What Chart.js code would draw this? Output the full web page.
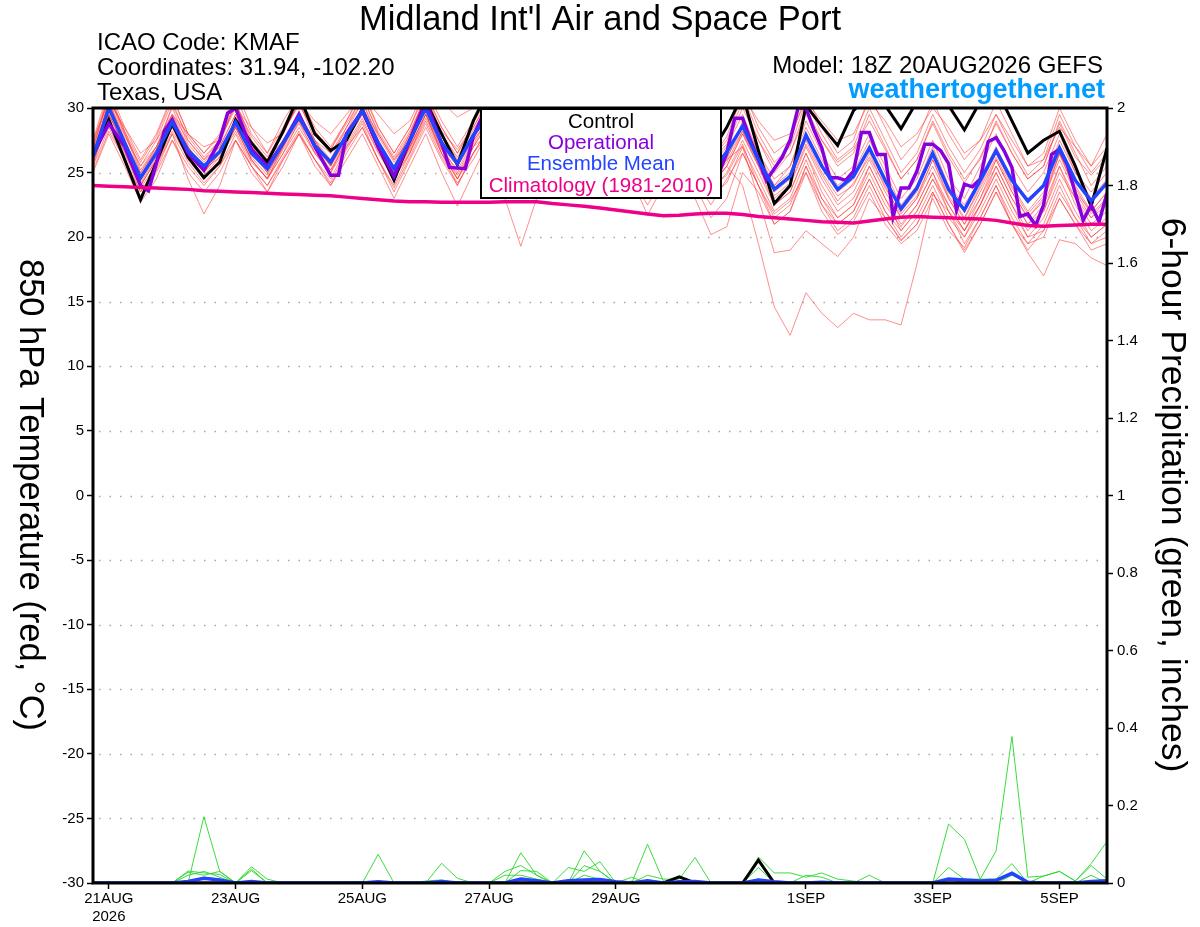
<!doctype html>
<html>

<head>
  <title>KMAF GEFS 850 hPa temperature plume</title>
  <script src="https://cdn.jsdelivr.net/npm/chart.js@4.4.0/dist/chart.umd.min.js"></script>
  <style>
    body {
      margin: 0;
      background: #fff;
    }
    canvas {
      display: block;
    }
  </style>
</head>

<body>
  <canvas id="plume" width="1200" height="927"></canvas>

  <script>
    // forecast hours after 18Z 20AUG2026, 6-hourly
    var hours = [0, 6, 12, 18, 24, 30, 36, 42, 48, 54, 60, 66, 72, 78, 84, 90, 96, 102, 108, 114, 120,
      126, 132, 138, 144, 150, 156, 162, 168, 174, 180, 186, 192, 198, 204, 210, 216, 222, 228, 234, 240,
      246, 252, 258, 264, 270, 276, 282, 288, 294, 300, 306, 312, 318, 324, 330, 336, 342, 348, 354, 360,
      366, 372, 378, 384];

    var tickHours = [6, 54, 102, 150, 198, 270, 318, 366];
    var tickLabels = [['21AUG', '2026'], '23AUG', '25AUG', '27AUG', '29AUG', '1SEP', '3SEP', '5SEP'];
    var gridTemps = [-25, -20, -15, -10, -5, 0, 5, 10, 15, 20, 25];

    var legendItems = ['Control', 'Operational', 'Ensemble Mean', 'Climatology (1981-2010)'];
    var legendColors = ['#000000', '#8800dd', '#2244ff', '#ee0088'];

    var controlTemp = [
      26.3, 29.1, 26.0, 22.9, 25.8,
      28.8, 26.2, 24.6, 25.8, 29.1,
      27.3, 25.8, 28.2, 31.0, 28.0,
      26.7, 27.5, 29.9, 27.0, 24.4,
      27.5, 30.5, 28.0, 25.6, 29.0,
      31.5, 29.0, 27.0, 29.5, 32.0,
      29.5, 27.5, 29.5, 32.0, 29.5,
      27.0, 29.0, 31.5, 29.0, 26.5,
      28.5, 31.0, 26.7, 22.6, 24.0,
      30.2, 28.6, 27.1, 29.8, 31.0,
      30.2, 28.4, 30.5, 31.5, 30.2,
      28.3, 30.5, 31.5, 29.0, 26.5,
      27.5, 28.2, 25.5, 22.4, 26.9];

    var meanTemp = [
      26.2, 30.0, 27.3, 24.6, 26.5,
      28.9, 26.7, 25.5, 26.6, 28.9,
      26.5, 25.3, 27.3, 29.3, 27.1,
      25.8, 27.9, 29.8, 27.3, 25.3,
      27.5, 30.0, 27.3, 25.7, 27.9,
      29.5, 27.0, 25.5, 27.5, 29.5,
      27.2, 25.5, 27.5, 29.5, 27.0,
      25.2, 27.0, 29.0, 26.8, 25.0,
      26.6, 28.6, 26.0, 23.7, 24.7,
      27.9, 25.5, 23.7, 24.7, 26.9,
      24.4, 22.2, 23.8, 26.5, 23.7,
      22.1, 24.4, 26.7, 24.4, 22.8,
      24.0, 26.9, 24.4, 22.8, 24.2];

    var climoTemp = [
      24.0, 23.95, 23.9, 23.85, 23.8,
      23.75, 23.7, 23.6, 23.55, 23.5,
      23.45, 23.4, 23.35, 23.3, 23.25,
      23.2, 23.1, 23.0, 22.9, 22.8,
      22.75, 22.75, 22.7, 22.7, 22.7,
      22.7, 22.75, 22.75, 22.75, 22.6,
      22.5, 22.4, 22.25, 22.1, 21.95,
      21.8, 21.65, 21.7, 21.8, 21.85,
      21.85, 21.75, 21.6, 21.5, 21.4,
      21.3, 21.2, 21.15, 21.1, 21.25,
      21.4, 21.55, 21.6, 21.55, 21.5,
      21.45, 21.4, 21.3, 21.1, 20.9,
      20.85, 20.9, 20.95, 21.0, 21.0];

    // operational run is 3-hourly later on
    var opHours = [0, 6, 12, 18, 21, 24, 27, 30, 36, 42, 48, 51, 54, 60, 66, 72, 78, 84, 90, 93, 96,
      102, 108, 114, 120, 126, 132, 135, 141, 144, 150, 156, 162, 168, 174, 180, 186, 192, 198, 204,
      210, 216, 222, 228, 234, 237, 240, 243, 246, 249, 252, 255, 258, 261, 264, 267, 270, 273, 276,
      279, 282, 285, 288, 291, 294, 297, 300, 303, 306, 309, 312, 315, 318, 321, 324, 327, 330, 333,
      336, 339, 342, 345, 348, 351, 354, 357, 360, 363, 366, 369, 372, 375, 378, 381, 384];
    var opTemp = [26.4, 28.8, 27.0, 24.0, 23.6, 25.7, 28.2, 29.1, 26.5, 25.2, 27.5, 29.6, 30.0, 26.8,
      25.5, 27.3, 29.5, 27.0, 24.8, 24.8, 28.0,
      29.8, 27.0, 24.7, 27.5, 30.5, 27.3, 25.4, 25.3, 27.8, 30.5, 28.0, 26.0, 28.0, 31.0, 28.5, 26.0,
      28.0, 31.0, 28.5,
      26.0, 28.0, 30.5, 28.0, 25.5, 24.9, 26.5, 29.2, 29.2, 27.5, 26.0, 24.4, 25.3, 26.2, 27.5, 30.0,
      30.0, 28.3, 26.9,
      24.6, 24.6, 24.4, 25.1, 28.1, 28.1, 26.4, 26.4, 21.6, 23.8, 23.8, 25.1, 27.2, 27.2, 26.7, 25.7,
      22.1, 24.1, 23.9,
      24.5, 27.4, 27.7, 26.7, 25.4, 21.6, 21.8, 20.9, 22.5, 26.4, 26.8, 25.6, 23.4, 21.3, 22.5, 21.2,
      23.4];

    var tempMember01 = [
      27.0, 31.0, 28.0, 25.5, 27.5, 30.5, 27.5, 26.0, 27.5, 30.5, 27.5, 26.0, 28.0, 30.5, 28.0,
      26.5, 28.5, 31.0, 28.0, 26.0, 28.0, 31.0, 28.5, 26.5, 28.5, 30.5, 28.0, 26.5, 28.5, 30.5,
      28.0, 26.5, 28.5, 30.5, 28.0, 26.0, 28.0, 30.0, 28.0, 26.0, 27.5, 30.5, 27.5, 25.0, 26.5,
      30.0, 27.5, 25.5, 26.5, 29.5, 27.0, 24.5, 26.0, 29.0, 26.5, 24.5, 26.0, 29.0, 26.5, 24.5,
      25.5, 29.0, 26.5, 24.0, 25.5];
    var tempMember02 = [
      27.5, 31.5, 28.5, 26.0, 28.0, 31.0, 28.0, 26.5, 28.0, 31.5, 28.5, 26.5, 29.0, 31.0, 28.5,
      27.0, 29.0, 31.5, 28.5, 26.5, 28.5, 31.5, 29.0, 27.0, 29.0, 31.5, 29.0, 27.0, 29.5, 31.5,
      29.0, 27.0, 29.0, 31.0, 28.5, 26.5, 28.5, 31.0, 28.5, 26.5, 28.5, 31.5, 28.5, 26.5, 27.5,
      31.0, 28.5, 26.5, 27.5, 31.0, 28.5, 26.0, 27.5, 30.5, 28.0, 26.0, 27.5, 30.5, 28.0, 25.5,
      26.5, 30.0, 27.5, 25.5, 27.0];
    var tempMember03 = [
      25.5, 28.5, 26.0, 23.0, 25.0, 27.5, 25.5, 24.0, 25.5, 27.5, 25.5, 24.0, 26.0, 28.0, 26.0,
      24.0, 26.5, 28.5, 26.0, 23.5, 26.0, 28.5, 26.0, 24.0, 26.5, 28.0, 25.5, 24.0, 26.0, 28.0,
      25.5, 23.5, 25.5, 27.5, 25.0, 23.0, 25.0, 27.0, 24.5, 22.5, 24.5, 26.5, 24.0, 21.5, 22.5,
      25.5, 23.0, 21.0, 22.0, 24.5, 22.0, 20.0, 21.5, 24.0, 21.5, 20.0, 22.0, 24.5, 22.0, 20.0,
      21.5, 24.5, 22.0, 20.0, 21.0];
    var tempMember04 = [
      25.8, 29.0, 26.5, 23.5, 25.5, 28.0, 24.5, 21.8, 24.0, 27.5, 25.5, 23.5, 26.0, 28.0, 26.0,
      24.5, 27.0, 28.5, 26.0, 24.0, 26.5, 29.0, 26.5, 24.5, 26.5, 28.5, 26.0, 24.5, 26.5, 28.5,
      26.0, 24.5, 26.5, 28.5, 26.0, 24.0, 26.0, 28.0, 25.5, 23.5, 25.0, 27.5, 25.0, 22.5, 23.5,
      26.5, 24.0, 22.0, 23.0, 25.5, 23.0, 21.0, 22.5, 25.0, 22.5, 20.5, 23.0, 25.5, 23.0, 21.0,
      22.5, 25.5, 23.0, 21.5, 22.5];
    var tempMember05 = [
      26.5, 30.5, 27.5, 24.5, 26.5, 29.5, 27.0, 25.0, 26.5, 29.0, 26.5, 25.0, 27.0, 29.5, 27.5,
      25.5, 28.0, 30.0, 27.5, 25.0, 27.5, 30.5, 27.0, 24.5, 27.0, 28.0, 23.0, 19.3, 23.0, 27.5,
      26.0, 24.5, 26.5, 28.5, 26.0, 24.0, 26.0, 28.0, 26.0, 24.0, 25.5, 28.0, 25.5, 23.0, 24.0,
      27.0, 24.5, 22.5, 23.5, 26.0, 23.5, 21.5, 23.0, 25.5, 23.0, 21.0, 23.5, 26.0, 23.5, 21.5,
      23.0, 26.0, 23.5, 21.5, 23.0];
    var tempMember06 = [
      26.0, 29.5, 27.0, 24.0, 26.0, 28.5, 26.5, 25.0, 26.5, 28.5, 26.0, 24.5, 27.0, 29.0, 27.0,
      25.5, 27.5, 29.5, 27.0, 25.0, 27.0, 29.5, 27.0, 25.5, 27.5, 29.0, 26.5, 25.0, 27.0, 29.0,
      26.5, 25.0, 27.0, 29.0, 26.5, 24.5, 26.5, 28.5, 26.0, 24.0, 25.5, 24.0, 19.5, 14.6, 12.4,
      15.7, 14.1, 13.0, 14.1, 13.6, 13.6, 13.2, 17.9, 23.3, 22.0, 20.5, 22.5, 25.5, 23.0, 21.0,
      22.0, 25.0, 23.0, 21.0, 22.0];
    var tempMember07 = [
      26.5, 30.0, 27.5, 25.0, 27.0, 29.0, 27.0, 25.5, 27.0, 29.5, 27.0, 25.5, 27.5, 29.5, 27.5,
      26.0, 28.5, 30.5, 27.5, 25.5, 28.0, 30.5, 28.0, 26.0, 28.0, 30.0, 27.5, 26.0, 28.0, 30.0,
      27.5, 26.0, 28.0, 30.0, 27.5, 25.5, 27.5, 29.5, 27.0, 25.0, 26.0, 27.0, 23.0, 18.8, 19.0,
      20.5, 19.5, 18.5, 20.0, 23.0, 21.5, 19.8, 21.0, 23.5, 21.0, 19.0, 21.0, 23.5, 21.0, 19.0,
      20.5, 23.0, 21.0, 19.5, 20.0];
    var tempMember08 = [
      25.5, 29.5, 27.0, 24.0, 26.0, 28.5, 26.0, 24.5, 26.0, 28.5, 26.0, 24.5, 26.5, 28.5, 26.5,
      25.0, 27.5, 29.5, 27.0, 24.5, 27.0, 29.5, 26.5, 24.5, 27.0, 29.0, 26.5, 24.5, 26.5, 28.5,
      26.5, 24.5, 26.5, 28.5, 26.0, 24.0, 26.0, 28.0, 26.0, 24.0, 25.5, 28.0, 25.5, 22.5, 23.5,
      26.5, 23.5, 21.5, 22.5, 25.5, 23.0, 20.5, 22.0, 24.5, 22.0, 19.5, 21.5, 24.0, 21.0, 18.8,
      17.0, 19.8, 19.5, 18.4, 17.8];
    var tempMember09 = [
      26.8, 31.0, 28.2, 25.2, 27.0, 30.0, 27.2, 25.8, 27.2, 30.5, 27.2, 25.8, 28.2, 30.5, 27.5,
      26.5, 28.2, 30.5, 27.8, 25.8, 27.8, 31.0, 28.0, 26.2, 28.3, 30.2, 27.8, 26.0, 28.2, 30.2,
      27.8, 26.0, 28.0, 30.0, 27.5, 25.8, 27.5, 29.5, 27.2, 25.5, 27.0, 29.5, 26.5, 24.5, 25.5,
      28.5, 26.0, 24.0, 25.0, 27.5, 25.0, 22.5, 24.0, 27.0, 24.0, 22.5, 24.5, 27.0, 24.5, 23.0,
      24.0, 27.5, 25.0, 23.5, 25.0];
    var tempMember10 = [
      27.5, 30.5, 28.5, 26.5, 27.5, 29.5, 28.0, 27.0, 27.5, 30.0, 28.5, 27.3, 28.0, 30.5, 29.0,
      28.0, 29.5, 31.0, 29.5, 28.0, 29.0, 31.5, 30.5, 29.3, 30.0, 31.0, 29.5, 28.0, 29.5, 31.0,
      29.5, 28.0, 29.5, 31.5, 29.5, 27.5, 29.0, 30.5, 28.5, 27.0, 28.5, 31.0, 29.0, 27.5, 28.0,
      30.5, 29.0, 27.5, 28.0, 30.5, 29.0, 27.0, 28.0, 30.0, 28.5, 26.5, 27.5, 29.5, 27.5, 25.5,
      26.0, 28.5, 27.0, 25.5, 28.0];
    var tempMember11 = [
      25.0, 28.0, 25.5, 22.7, 24.5, 27.5, 25.0, 23.5, 25.0, 27.5, 25.0, 23.5, 25.5, 28.0, 25.5,
      24.0, 26.0, 28.0, 25.5, 23.0, 25.5, 28.0, 25.0, 22.4, 25.0, 27.5, 25.0, 23.5, 25.5, 27.5,
      25.0, 23.0, 25.0, 27.0, 24.5, 22.5, 24.5, 27.0, 24.0, 21.5, 23.0, 26.5, 24.0, 21.0, 22.0,
      25.5, 22.5, 20.5, 21.5, 24.0, 21.5, 19.7, 21.0, 23.5, 21.0, 18.8, 21.0, 23.5, 21.0, 19.5,
      21.0, 24.0, 21.5, 19.5, 20.5];
    var tempMember12 = [
      26.0, 29.5, 27.0, 24.0, 26.0, 28.5, 26.5, 24.5, 26.0, 28.5, 26.0, 24.5, 26.5, 29.0, 26.5,
      25.0, 27.0, 29.0, 26.5, 24.5, 26.5, 29.5, 26.5, 24.0, 26.5, 28.5, 26.0, 24.0, 25.5, 28.0,
      25.5, 23.5, 25.0, 27.5, 24.5, 21.7, 24.0, 26.0, 23.0, 20.2, 20.8, 25.0, 23.5, 21.0, 22.0,
      25.0, 22.5, 21.0, 22.0, 24.5, 22.0, 20.5, 22.0, 24.5, 22.5, 20.5, 22.5, 25.0, 22.5, 20.0,
      20.5, 23.5, 21.5, 20.0, 21.0];
    var tempMember13 = [
      26.3, 30.5, 27.8, 25.5, 27.0, 29.5, 27.5, 26.0, 27.0, 29.5, 27.0, 26.0, 27.5, 29.5, 27.0,
      26.0, 28.0, 30.0, 28.0, 26.0, 27.5, 30.0, 27.5, 25.5, 28.0, 29.5, 27.5, 25.5, 27.5, 29.5,
      27.5, 25.5, 27.5, 29.5, 27.0, 25.0, 27.0, 29.0, 27.0, 25.0, 26.5, 28.5, 26.0, 24.0, 25.0,
      28.0, 25.5, 23.5, 24.5, 27.0, 24.5, 22.0, 23.5, 26.5, 23.5, 21.5, 24.0, 26.5, 24.0, 22.0,
      23.5, 26.5, 24.0, 22.0, 23.5];
    var tempMember14 = [
      26.6, 30.2, 27.6, 24.2, 26.2, 29.0, 26.8, 25.0, 26.8, 29.0, 26.8, 25.0, 27.0, 29.2, 27.2,
      25.5, 27.8, 29.8, 27.2, 25.2, 27.3, 30.2, 27.5, 25.8, 27.6, 29.8, 27.2, 25.8, 27.8, 29.8,
      27.0, 25.2, 27.2, 29.2, 26.8, 25.2, 27.2, 29.2, 26.5, 24.5, 26.0, 29.0, 26.5, 24.0, 25.5,
      29.0, 26.5, 24.5, 25.5, 28.0, 25.5, 23.0, 24.5, 27.5, 24.5, 23.0, 25.5, 28.0, 25.5, 23.5,
      25.0, 28.0, 25.0, 23.0, 24.5];
    var tempMember15 = [
      25.2, 28.2, 26.0, 23.5, 25.2, 28.0, 25.8, 24.2, 25.5, 28.0, 25.5, 24.0, 26.2, 28.2, 26.0,
      24.2, 26.8, 28.8, 26.0, 23.8, 26.2, 28.8, 26.2, 24.2, 26.0, 28.2, 25.8, 24.2, 26.2, 28.2,
      25.8, 24.0, 26.0, 28.0, 25.5, 23.5, 25.5, 27.5, 25.2, 23.2, 24.2, 27.0, 24.5, 22.0, 23.0,
      26.0, 23.0, 21.5, 22.5, 25.0, 22.5, 20.8, 22.5, 25.0, 22.0, 20.0, 22.5, 25.0, 22.5, 20.5,
      22.0, 25.5, 22.5, 20.5, 21.5];
    var tempMember16 = [
      27.2, 31.2, 28.2, 25.8, 27.8, 30.8, 28.0, 26.5, 27.8, 31.0, 28.0, 26.5, 28.5, 30.8, 28.2,
      26.8, 29.0, 31.2, 28.5, 26.5, 28.5, 31.2, 28.5, 26.5, 28.8, 31.0, 28.5, 26.8, 28.8, 31.0,
      28.5, 26.8, 28.8, 30.8, 28.2, 26.2, 28.2, 30.5, 28.0, 26.0, 27.8, 31.0, 28.0, 25.8, 27.0,
      30.5, 28.0, 26.0, 27.0, 30.0, 27.5, 25.0, 26.5, 29.5, 27.0, 25.0, 26.8, 29.5, 27.0, 24.8,
      26.0, 29.5, 27.0, 25.0, 26.5];
    var tempMember17 = [
      26.0, 29.8, 27.2, 24.8, 26.8, 29.2, 27.0, 25.2, 26.2, 29.2, 26.2, 24.8, 27.0, 29.8, 27.0,
      25.2, 27.5, 30.2, 27.0, 24.8, 27.0, 30.2, 27.0, 25.0, 27.2, 29.2, 26.8, 25.2, 27.2, 29.2,
      26.8, 25.2, 27.2, 29.2, 26.8, 24.8, 26.8, 28.8, 26.2, 24.5, 26.2, 28.2, 25.8, 23.2, 24.2,
      27.2, 24.8, 22.8, 24.2, 26.2, 24.0, 21.5, 23.0, 26.0, 23.0, 21.0, 23.0, 26.0, 23.5, 21.5,
      22.8, 26.5, 23.5, 22.0, 23.5];
    var tempMember18 = [
      25.8, 29.2, 26.6, 23.8, 25.6, 28.2, 26.2, 24.8, 26.2, 28.2, 25.8, 24.6, 26.8, 28.8, 26.6,
      25.2, 27.2, 29.2, 26.6, 24.6, 26.6, 29.2, 26.8, 24.8, 27.0, 28.8, 26.6, 24.8, 26.8, 28.8,
      26.4, 24.6, 26.6, 28.6, 26.2, 24.2, 26.2, 28.2, 25.8, 23.8, 24.8, 27.2, 24.0, 21.8, 22.8,
      25.0, 22.0, 20.2, 21.2, 23.5, 21.0, 19.5, 20.5, 23.0, 20.5, 19.2, 21.5, 24.0, 21.5, 19.5,
      20.0, 23.0, 21.0, 19.0, 19.5];
    var tempMember19 = [
      26.8, 30.8, 28.0, 25.0, 26.8, 30.2, 27.8, 26.2, 27.5, 30.2, 27.8, 26.2, 28.2, 30.2, 28.2,
      26.8, 28.8, 30.8, 28.2, 26.2, 28.2, 30.8, 28.2, 26.8, 28.5, 30.8, 28.2, 26.5, 28.5, 30.8,
      28.2, 26.5, 28.5, 30.5, 28.0, 26.0, 28.0, 30.2, 27.8, 25.8, 27.2, 30.0, 27.5, 25.5, 26.5,
      29.5, 27.5, 25.8, 26.8, 29.0, 26.8, 24.5, 26.0, 28.8, 26.2, 24.2, 26.2, 28.8, 26.5, 24.5,
      25.5, 28.8, 26.2, 24.8, 26.2];
    var tempMember20 = [
      26.4, 30.4, 27.4, 24.4, 26.4, 28.6, 26.4, 25.2, 26.6, 28.6, 26.4, 25.4, 27.4, 29.6, 27.4,
      25.8, 27.8, 29.6, 26.8, 24.8, 26.8, 29.6, 26.8, 25.2, 27.4, 29.4, 27.0, 25.4, 27.4, 29.4,
      27.0, 25.4, 27.4, 29.4, 26.8, 24.8, 26.8, 28.8, 26.4, 24.4, 25.8, 28.2, 25.6, 23.5, 24.5,
      27.5, 25.0, 23.2, 24.0, 26.5, 23.8, 21.8, 23.2, 26.0, 23.2, 21.4, 23.8, 26.2, 23.8, 21.8,
      23.2, 26.4, 23.8, 21.8, 23.0];

    var tempMembers = [tempMember01, tempMember02, tempMember03, tempMember04, tempMember05,
      tempMember06, tempMember07, tempMember08, tempMember09, tempMember10, tempMember11,
      tempMember12, tempMember13, tempMember14, tempMember15, tempMember16, tempMember17,
      tempMember18, tempMember19, tempMember20];

    // 6-hour precipitation, inches
    var precipMember01 = [
      0, 0, 0, 0, 0, 0, 0, 0.171, 0.03, 0, 0, 0, 0,
      0, 0, 0, 0, 0, 0, 0, 0, 0, 0, 0, 0, 0,
      0, 0, 0, 0, 0, 0, 0, 0, 0, 0, 0, 0, 0,
      0, 0, 0, 0, 0, 0, 0, 0, 0, 0, 0, 0, 0,
      0, 0, 0.152, 0.113, 0.01, 0.083, 0.378, 0.015, 0.018, 0.03, 0.005, 0.05, 0.107];
    var precipMember02 = [
      0, 0, 0, 0, 0, 0, 0.031, 0.026, 0.022, 0, 0.042, 0.01, 0,
      0, 0, 0, 0, 0, 0.074, 0, 0, 0, 0.051, 0.012, 0, 0,
      0, 0.078, 0.02, 0, 0, 0.083, 0.03, 0, 0, 0.1, 0.005, 0, 0,
      0, 0, 0, 0.067, 0.026, 0.026, 0.015, 0.026, 0.01, 0.005, 0, 0, 0,
      0, 0, 0.04, 0.01, 0.01, 0.01, 0.05, 0, 0, 0, 0, 0.02, 0];
    var precipMember03 = [
      0, 0, 0, 0, 0, 0, 0.028, 0.02, 0.03, 0, 0.036, 0, 0,
      0, 0, 0, 0.003, 0.004, 0.003, 0, 0, 0, 0, 0, 0, 0,
      0.03, 0.045, 0.02, 0, 0.04, 0.03, 0.055, 0, 0.015, 0, 0, 0, 0,
      0, 0, 0, 0.04, 0, 0, 0, 0, 0, 0, 0.02, 0, 0,
      0, 0, 0, 0, 0, 0, 0, 0, 0, 0, 0, 0, 0];
    var precipMember04 = [
      0, 0, 0, 0, 0, 0, 0.02, 0.03, 0.015, 0, 0.032, 0, 0,
      0, 0, 0, 0, 0, 0, 0, 0, 0, 0, 0, 0, 0,
      0, 0.032, 0.03, 0, 0, 0.045, 0.03, 0, 0, 0.02, 0.01, 0.01, 0.066,
      0, 0, 0, 0, 0, 0, 0.02, 0.015, 0, 0, 0, 0, 0,
      0, 0, 0, 0, 0, 0, 0, 0, 0.018, 0.03, 0.005, 0.045, 0.01];
    var precipMember05 = [
      0, 0, 0, 0, 0, 0, 0, 0.015, 0.01, 0, 0, 0, 0,
      0, 0, 0, 0, 0, 0, 0, 0, 0.005, 0.008, 0, 0, 0,
      0.02, 0.02, 0.01, 0, 0, 0.02, 0.01, 0, 0.005, 0, 0, 0, 0,
      0, 0, 0, 0.01, 0, 0, 0, 0, 0, 0, 0, 0, 0,
      0, 0, 0.01, 0, 0, 0, 0.02, 0, 0, 0, 0, 0, 0];
    var precipMembers = [precipMember01, precipMember02, precipMember03, precipMember04, precipMember05];

    var controlPrecip = [
      0, 0, 0, 0, 0, 0, 0, 0, 0, 0, 0, 0, 0,
      0, 0, 0, 0, 0, 0, 0, 0, 0, 0, 0, 0, 0,
      0, 0, 0, 0, 0, 0, 0, 0, 0, 0, 0, 0.016, 0,
      0, 0, 0, 0.059, 0, 0, 0, 0, 0, 0, 0, 0, 0,
      0, 0, 0, 0, 0, 0, 0, 0, 0, 0, 0, 0, 0];
    var meanPrecip = [
      0, 0, 0, 0, 0, 0, 0.004, 0.012, 0.008, 0, 0.004, 0, 0,
      0, 0, 0, 0, 0, 0.003, 0, 0, 0, 0.004, 0, 0, 0,
      0, 0.01, 0.006, 0, 0.006, 0.008, 0.009, 0.003, 0, 0.006, 0, 0.003, 0.004,
      0, 0, 0, 0.008, 0.003, 0, 0, 0.002, 0, 0, 0, 0, 0,
      0, 0, 0.01, 0.008, 0.005, 0.007, 0.025, 0.002, 0, 0, 0, 0.004, 0.006];

    var FONT = '"Liberation Sans", Arial, sans-serif';

    function pts(xs, ys) {
      return xs.map(function(x, i) {
        return {x: x, y: ys[i]};
      });
    }

    function line(data, color, width, axis) {
      return {
        data: data,
        yAxisID: axis,
        borderColor: color,
        borderWidth: width,
        pointRadius: 0,
        fill: false,
        tension: 0,
        clip: 0
      };
    }

    // first dataset ends up on top
    var datasets = [
      line(pts(hours, climoTemp), '#ee0088', 3.5, 'y'),
      line(pts(hours, meanTemp), '#2244ff', 3.5, 'y'),
      line(pts(opHours, opTemp), '#8800dd', 3.5, 'y'),
      line(pts(hours, controlTemp), '#000000', 3, 'y'),
      line(pts(hours, meanPrecip), '#2244ff', 3.5, 'yP'),
      line(pts(hours, controlPrecip), '#000000', 3, 'yP')
    ];
    precipMembers.forEach(function(m) {
      datasets.push(line(pts(hours, m), 'rgba(40,215,40,0.9)', 1, 'yP'));
    });
    tempMembers.forEach(function(m) {
      datasets.push(line(pts(hours, m), 'rgba(255,50,50,0.55)', 1, 'y'));
    });

    var decor = {
      id: 'decor',
      beforeDatasetsDraw: function(chart) {
        var c = chart.ctx, a = chart.chartArea, y = chart.scales.y;
        c.save();
        c.strokeStyle = '#a8a8a8';
        c.lineWidth = 1.5;
        c.setLineDash([1.5, 9]);
        gridTemps.forEach(function(t) {
          var py = Math.round(y.getPixelForValue(t)) + 0.5;
          c.beginPath();
          c.moveTo(a.left + 6, py);
          c.lineTo(a.right, py);
          c.stroke();
        });
        c.restore();
      },
      afterDatasetsDraw: function(chart) {
        var c = chart.ctx, a = chart.chartArea;
        var bx = 481, by = a.top, bw = 240, bh = 90;
        c.save();
        c.fillStyle = '#fff';
        c.fillRect(bx, by, bw, bh);
        c.strokeStyle = '#000';
        c.lineWidth = 2;
        c.strokeRect(bx, by + 1, bw, bh - 1);
        c.font = '20.5px ' + FONT;
        c.textAlign = 'center';
        c.textBaseline = 'middle';
        legendItems.forEach(function(t, i) {
          c.fillStyle = legendColors[i];
          c.fillText(t, bx + bw / 2, by + 14 + i * 21.3);
        });
        c.restore();
      },
      afterDraw: function(chart) {
        var c = chart.ctx, a = chart.chartArea;
        c.save();
        c.strokeStyle = '#000';
        c.lineWidth = 3;
        c.strokeRect(a.left, a.top, a.right - a.left, a.bottom - a.top);

        c.fillStyle = '#000';
        c.textBaseline = 'alphabetic';
        c.textAlign = 'center';
        c.font = '34.5px ' + FONT;
        c.fillText("Midland Int'l Air and Space Port", 600, 30);

        c.textAlign = 'left';
        c.font = '24px ' + FONT;
        c.fillText('ICAO Code: KMAF', 97, 50);
        c.fillText('Coordinates: 31.94, -102.20', 97, 75);
        c.fillText('Texas, USA', 97, 100);

        c.textAlign = 'right';
        c.fillText('Model: 18Z 20AUG2026 GEFS', 1103, 73);
        c.fillStyle = '#009cff';
        c.font = 'bold 27px ' + FONT;
        c.fillText('weathertogether.net', 1105, 98);

        // axis titles, both turned clockwise
        c.fillStyle = '#000';
        c.textAlign = 'center';
        c.textBaseline = 'middle';
        c.font = '34.5px ' + FONT;
        c.save();
        c.translate(30, 495);
        c.rotate(Math.PI / 2);
        c.fillText('850 hPa Temperature (red, \u00B0C)', 0, 0);
        c.restore();
        c.save();
        c.translate(1172, 495);
        c.rotate(Math.PI / 2);
        c.font = '35.5px ' + FONT;
        c.fillText('6-hour Precipitation (green, inches)', 0, 0);
        c.restore();
        c.restore();
      }
    };

    var tickFont = {family: FONT, size: 15};
    var tickGrid = {
      drawOnChartArea: false,
      drawTicks: true,
      tickLength: 6,
      tickColor: '#000',
      tickWidth: 1.5
    };

    var config = {
      type: 'line',
      data: {datasets: datasets},
      options: {
        responsive: false,
        animation: false,
        devicePixelRatio: 1,
        layout: {padding: {top: 108, left: 0, right: 0, bottom: 0}},
        plugins: {
          legend: {display: false},
          tooltip: {enabled: false}
        },
        scales: {
          x: {
            type: 'linear',
            min: 0,
            max: 384,
            afterBuildTicks: function(s) {
              s.ticks = tickHours.map(function(v) { return {value: v}; });
            },
            afterFit: function(s) { s.height = 44; },
            ticks: {
              autoSkip: false,
              maxRotation: 0,
              padding: 1,
              color: '#000',
              font: tickFont,
              callback: function(v, i) { return tickLabels[i]; }
            },
            grid: tickGrid,
            border: {display: false}
          },
          y: {
            position: 'left',
            min: -30,
            max: 30,
            afterFit: function(s) { s.width = 93; },
            ticks: {stepSize: 5, color: '#000', font: tickFont, padding: 3},
            grid: tickGrid,
            border: {display: false}
          },
          yP: {
            position: 'right',
            min: 0,
            max: 2,
            afterFit: function(s) { s.width = 93; },
            ticks: {
              stepSize: 0.2,
              color: '#000',
              font: tickFont,
              padding: 4,
              callback: function(v) { return String(+v.toFixed(1)); }
            },
            grid: tickGrid,
            border: {display: false}
          }
        }
      },
      plugins: [decor]
    };

    window.onload = function() {
      var ctx = document.getElementById('plume').getContext('2d');
      window.plume = new Chart(ctx, config);
    };
  </script>
</body>

</html>
